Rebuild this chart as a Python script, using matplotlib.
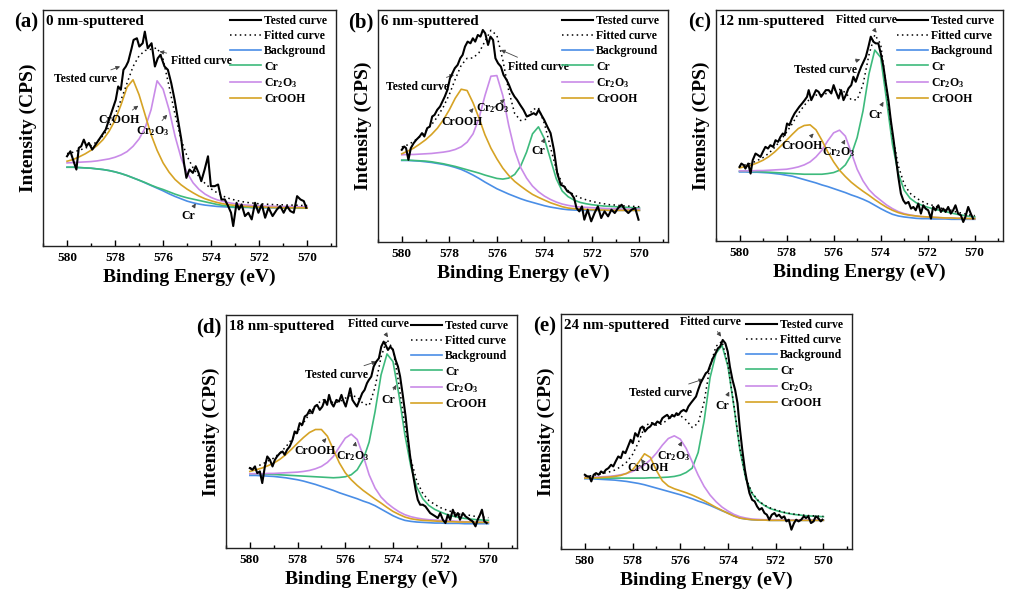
import matplotlib
matplotlib.use('Agg')
import matplotlib.pyplot as plt
from matplotlib.ticker import MultipleLocator

# Fonts: bold serif everywhere, subscripts through mathtext in the same font
plt.rcParams['font.family'] = 'Liberation Serif'
plt.rcParams['font.weight'] = 'bold'
plt.rcParams['axes.labelweight'] = 'bold'
plt.rcParams['mathtext.fontset'] = 'custom'
plt.rcParams['mathtext.rm'] = 'Liberation Serif:bold'
plt.rcParams['mathtext.bf'] = 'Liberation Serif:bold'
plt.rcParams['mathtext.default'] = 'bf'

# Common energy grid (eV) for the fitted components
energy = [580.0, 579.75, 579.5, 579.25, 579.0, 578.75, 578.5, 578.25, 578.0, 577.75,
          577.5, 577.25, 577.0, 576.75, 576.5, 576.25, 576.0, 575.75, 575.5, 575.25,
          575.0, 574.75, 574.5, 574.25, 574.0, 573.75, 573.5, 573.25, 573.0, 572.75,
          572.5, 572.25, 572.0, 571.75, 571.5, 571.25, 571.0, 570.75, 570.5, 570.25, 570.0]

# ---- (a) 0 nm-sputtered ----
a_E_test = [580.00, 579.86, 579.75, 579.61, 579.51, 579.41, 579.30, 579.19, 579.09, 578.95,
            578.81, 578.67, 578.53, 578.39, 578.25, 578.11, 577.97, 577.87, 577.76, 577.65,
            577.55, 577.45, 577.31, 577.23, 577.09, 576.99, 576.85, 576.76, 576.64, 576.48,
            576.34, 576.22, 576.11, 575.94, 575.80, 575.66, 575.52, 575.38, 575.24, 575.13,
            575.03, 574.90, 574.76, 574.64, 574.52, 574.41, 574.27, 574.13, 574.01, 573.85,
            573.71, 573.57, 573.43, 573.29, 573.17, 573.08, 572.94, 572.84, 572.73, 572.59,
            572.45, 572.31, 572.17, 572.03, 571.89, 571.75, 571.61, 571.44, 571.26, 571.12,
            570.98, 570.84, 570.70, 570.56, 570.42, 570.28, 570.14, 570.04]
a_I_test = [270, 285, 260, 230, 295, 300, 320, 300, 310, 290,
            305, 320, 335, 350, 380, 410, 440, 480, 470, 530,
            540, 555, 595, 620, 625, 600, 610, 645, 595, 610,
            540, 565, 575, 540, 530, 490, 440, 380, 320, 250,
            205, 230, 220, 240, 220, 195, 230, 270, 180, 180,
            185, 140, 140, 120, 100, 60, 130, 110, 125, 90,
            100, 80, 130, 100, 125, 85, 115, 90, 110, 120,
            100, 120, 105, 100, 150, 140, 135, 115]
a_fit = [278, 282, 288, 294, 302, 314, 332, 358, 395, 440, 490, 540, 572, 588, 592, 596, 562, 480, 395, 320,
         270, 235, 208, 188, 172, 160, 150, 143, 138, 134, 131, 129, 127, 126, 125, 124, 124, 123, 123, 122, 122]
a_bg = [237, 237, 236, 235, 234, 232, 230, 227, 223, 218, 212, 205, 198, 190, 182, 174, 166, 157, 149, 142,
        135, 130, 126, 123, 121, 119, 118, 117, 116, 116, 116, 115, 115, 115, 115, 115, 114, 114, 114, 114, 114]
a_cr = [237, 237, 236, 235, 234, 232, 230, 227, 223, 218, 212, 205, 198, 191, 183, 176, 170, 163, 156, 150,
        145, 141, 137, 133, 129, 125, 122, 119, 117, 117, 117, 116, 116, 116, 116, 116, 115, 115, 115, 115, 115]
a_cr2o3 = [250, 251, 252, 253, 254, 256, 259, 262, 267, 274, 284, 300, 322, 355, 410, 497, 472, 410, 330, 265,
           220, 190, 170, 156, 146, 139, 134, 130, 127, 125, 123, 122, 121, 120, 120, 119, 119, 119, 118, 118, 118]
a_crooh = [255, 260, 268, 277, 288, 302, 320, 345, 378, 425, 478, 500, 455, 395, 335, 288, 250, 222, 200, 184,
           171, 160, 150, 142, 136, 131, 127, 124, 122, 120, 119, 118, 117, 117, 116, 116, 115, 115, 115, 115, 114]

# ---- (b) 6 nm-sputtered ----
b_E_test = [580.00, 579.90, 579.82, 579.72, 579.62, 579.50, 579.39, 579.25, 579.15, 579.05,
            578.93, 578.82, 578.72, 578.62, 578.51, 578.39, 578.29, 578.19, 578.08, 577.97,
            577.87, 577.77, 577.65, 577.54, 577.44, 577.34, 577.23, 577.11, 577.01, 576.91,
            576.80, 576.69, 576.59, 576.49, 576.37, 576.27, 576.16, 576.06, 575.95, 575.83,
            575.72, 575.59, 575.49, 575.38, 575.26, 575.15, 575.02, 574.88, 574.74, 574.59,
            574.45, 574.35, 574.24, 574.13, 574.01, 573.88, 573.74, 573.60, 573.46, 573.31,
            573.17, 573.03, 572.89, 572.75, 572.65, 572.53, 572.42, 572.32, 572.18, 572.03,
            571.89, 571.75, 571.61, 571.47, 571.32, 571.18, 571.04, 570.90, 570.75, 570.61,
            570.47, 570.33, 570.18, 570.04]
b_I_test = [277, 287, 282, 247, 282, 297, 307, 317, 327, 317,
            342, 347, 377, 382, 397, 407, 422, 437, 457, 492,
            507, 522, 532, 552, 562, 587, 602, 597, 612, 602,
            622, 617, 637, 627, 592, 617, 607, 552, 537, 527,
            502, 487, 472, 452, 437, 427, 412, 397, 377, 382,
            387, 382, 397, 382, 367, 347, 327, 277, 207, 172,
            167, 152, 147, 132, 102, 92, 107, 67, 97, 62,
            87, 107, 72, 92, 77, 97, 87, 102, 112, 97,
            87, 97, 102, 67]
b_fit = [285, 292, 302, 316, 333, 352, 376, 406, 443, 489, 531, 552, 553, 569, 603, 636, 621, 547, 454, 386,
         365, 369, 398, 403, 356, 286, 218, 175, 154, 141, 133, 127, 122, 118, 115, 112, 111, 109, 108, 107, 106]
b_bg = [245, 245, 244, 243, 241, 239, 236, 233, 229, 224, 218, 210, 201, 191, 180, 170, 160, 152, 144, 137,
        130, 124, 119, 114, 109, 105, 102, 99, 97, 96, 95, 95, 95, 95, 95, 95, 95, 95, 95, 95, 95]
b_cr = [246, 246, 245, 244, 243, 241, 238, 235, 231, 227, 222, 217, 212, 207, 201, 196, 191, 189, 192, 203,
        228, 270, 325, 346, 310, 250, 190, 153, 136, 126, 119, 115, 112, 110, 108, 107, 106, 105, 104, 103, 102]
b_cr2o3 = [262, 263, 263, 264, 265, 266, 268, 270, 273, 278, 286, 300, 325, 372, 440, 498, 500, 440, 350, 275,
           224, 192, 168, 151, 138, 128, 120, 114, 110, 107, 105, 104, 103, 102, 101, 100, 100, 99, 99, 99, 99]
b_crooh = [265, 273, 282, 294, 307, 323, 342, 367, 397, 432, 459, 455, 418, 372, 322, 282, 250, 222, 200, 182,
           168, 155, 143, 134, 126, 118, 112, 106, 102, 100, 99, 98, 97, 96, 96, 95, 95, 95, 95, 95, 95]

# ---- (c) 12 nm-sputtered ----
c_E_test = [580.00, 579.92, 579.82, 579.75, 579.63, 579.53, 579.44, 579.32, 579.21, 579.11,
            579.01, 578.90, 578.79, 578.69, 578.57, 578.47, 578.36, 578.26, 578.16, 578.08,
            577.98, 577.88, 577.77, 577.66, 577.56, 577.46, 577.34, 577.23, 577.13, 577.06,
            576.95, 576.85, 576.75, 576.64, 576.53, 576.43, 576.33, 576.21, 576.10, 576.00,
            575.90, 575.79, 575.68, 575.58, 575.48, 575.37, 575.25, 575.16, 575.06, 574.94,
            574.83, 574.73, 574.63, 574.52, 574.42, 574.31, 574.21, 574.10, 573.98, 573.88,
            573.79, 573.67, 573.57, 573.45, 573.36, 573.25, 573.14, 573.04, 572.94, 572.82,
            572.71, 572.61, 572.51, 572.40, 572.29, 572.19, 572.09, 571.98, 571.86, 571.77,
            571.67, 571.55, 571.44, 571.34, 571.24, 571.13, 571.02, 570.92, 570.82, 570.71,
            570.59, 570.49, 570.40, 570.28, 570.17, 570.07]
c_I_test = [222, 232, 227, 217, 232, 202, 242, 262, 257, 252,
            267, 282, 277, 287, 282, 302, 297, 312, 322, 317,
            352, 347, 367, 382, 392, 402, 412, 422, 432, 452,
            422, 437, 452, 447, 432, 442, 452, 452, 442, 467,
            447, 427, 452, 422, 437, 457, 467, 492, 477, 502,
            522, 537, 552, 582, 612, 597, 592, 592, 557, 522,
            477, 422, 362, 302, 252, 192, 142, 122, 112, 117,
            97, 102, 92, 112, 82, 107, 97, 92, 67, 102,
            92, 107, 87, 97, 87, 102, 82, 92, 107, 82,
            77, 57, 72, 102, 82, 67]
c_fit = [224, 228, 233, 241, 250, 263, 281, 302, 326, 352, 382, 406, 427, 437, 438, 443, 452, 454, 445, 423,
         423, 469, 557, 618, 590, 455, 319, 225, 170, 143, 129, 119, 111, 106, 100, 94, 92, 86, 83, 78, 76]
c_bg = [207, 207, 206, 206, 205, 204, 202, 200, 197, 194, 189, 184, 179, 174, 168, 163, 157, 151, 145, 138,
        132, 125, 117, 107, 97, 88, 80, 75, 72, 70, 68, 67, 67, 66, 66, 66, 65, 65, 65, 65, 65]
c_cr = [209, 209, 208, 208, 207, 206, 205, 204, 203, 202, 201, 200, 200, 200, 200, 202, 205, 212, 228, 258,
        310, 390, 500, 572, 550, 422, 290, 202, 152, 128, 115, 107, 101, 96, 92, 88, 84, 80, 77, 74, 72]
c_cr2o3 = [210, 210, 210, 211, 211, 212, 213, 214, 215, 218, 222, 228, 237, 252, 272, 300, 324, 332, 314, 265,
           215, 180, 154, 136, 122, 108, 97, 88, 82, 78, 75, 73, 72, 71, 70, 69, 69, 68, 68, 67, 67]
c_crooh = [219, 223, 227, 234, 242, 253, 267, 284, 302, 320, 337, 346, 348, 333, 302, 267, 237, 212, 193, 176,
           162, 149, 137, 124, 112, 101, 92, 85, 80, 77, 75, 73, 72, 71, 70, 69, 69, 68, 68, 67, 67]

# ---- (d) 18 nm-sputtered ----
d_E_test = [580.00, 579.89, 579.79, 579.69, 579.58, 579.48, 579.37, 579.27, 579.16, 579.05,
            578.95, 578.86, 578.74, 578.63, 578.54, 578.44, 578.33, 578.21, 578.12, 578.02,
            577.91, 577.80, 577.70, 577.60, 577.49, 577.38, 577.28, 577.18, 577.07, 576.96,
            576.86, 576.76, 576.68, 576.58, 576.49, 576.37, 576.26, 576.16, 576.07, 575.98,
            575.89, 575.79, 575.70, 575.61, 575.51, 575.40, 575.29, 575.19, 575.09, 575.01,
            574.91, 574.81, 574.70, 574.59, 574.49, 574.39, 574.31, 574.21, 574.11, 574.00,
            573.89, 573.79, 573.70, 573.58, 573.47, 573.38, 573.28, 573.17, 573.05, 572.96,
            572.86, 572.75, 572.64, 572.54, 572.44, 572.33, 572.22, 572.12, 572.02, 571.91,
            571.80, 571.70, 571.60, 571.49, 571.38, 571.28, 571.19, 571.07, 570.96, 570.86,
            570.77, 570.66, 570.54, 570.45, 570.35, 570.27, 570.17, 570.07]
d_I_test = [240, 235, 245, 225, 230, 195, 245, 275, 265, 245,
            265, 275, 285, 290, 280, 295, 305, 325, 350, 345,
            375, 370, 395, 400, 415, 405, 425, 430, 415, 425,
            445, 430, 460, 435, 425, 445, 440, 460, 440, 425,
            450, 480, 445, 435, 425, 445, 465, 475, 495, 505,
            515, 545, 560, 570, 605, 620, 610, 595, 605, 595,
            565, 545, 515, 455, 395, 335, 275, 225, 175, 145,
            130, 130, 125, 115, 105, 100, 95, 90, 105, 85,
            75, 100, 85, 115, 95, 105, 85, 105, 95, 90,
            85, 80, 65, 85, 100, 115, 80, 75]
d_fit = [240, 245, 251, 261, 270, 285, 303, 326, 350, 376, 403, 426, 444, 447, 436, 439, 450, 459, 453, 434,
         428, 483, 574, 626, 597, 492, 367, 267, 201, 164, 143, 131, 121, 114, 108, 102, 100, 98, 94, 93, 91]
d_bg = [218, 218, 217, 216, 215, 213, 211, 208, 205, 201, 196, 191, 185, 179, 173, 166, 160, 154, 148, 141,
        135, 127, 117, 107, 97, 89, 83, 80, 78, 77, 76, 75, 75, 74, 74, 74, 73, 73, 73, 73, 73]
d_cr = [223, 223, 222, 222, 221, 220, 219, 218, 217, 216, 215, 214, 213, 212, 211, 212, 214, 220, 235, 265,
        318, 410, 520, 583, 560, 460, 340, 245, 182, 148, 128, 116, 108, 101, 96, 92, 89, 87, 85, 84, 83]
d_cr2o3 = [223, 223, 223, 224, 224, 225, 226, 227, 228, 230, 233, 238, 245, 257, 275, 303, 330, 342, 326, 278,
           220, 180, 153, 135, 121, 109, 100, 94, 90, 87, 85, 84, 83, 82, 81, 80, 79, 79, 78, 78, 77]
d_crooh = [230, 235, 240, 247, 255, 266, 280, 297, 315, 332, 347, 356, 356, 336, 296, 256, 226, 205, 188, 173,
           160, 147, 135, 122, 110, 101, 93, 88, 85, 83, 82, 81, 80, 79, 79, 78, 78, 78, 77, 77, 77]

# ---- (e) 24 nm-sputtered ----
e_E_test = [580.00, 579.90, 579.81, 579.73, 579.63, 579.53, 579.42, 579.32, 579.22, 579.12,
            579.01, 578.90, 578.81, 578.71, 578.60, 578.49, 578.40, 578.30, 578.19, 578.08,
            577.99, 577.89, 577.78, 577.67, 577.58, 577.48, 577.37, 577.26, 577.16, 577.07,
            576.96, 576.85, 576.75, 576.66, 576.55, 576.44, 576.34, 576.25, 576.16, 576.07,
            575.97, 575.86, 575.75, 575.66, 575.56, 575.45, 575.34, 575.25, 575.15, 575.04,
            574.93, 574.84, 574.74, 574.63, 574.52, 574.42, 574.33, 574.22, 574.11, 574.01,
            573.92, 573.81, 573.70, 573.60, 573.51, 573.40, 573.29, 573.19, 573.10, 572.99,
            572.88, 572.78, 572.68, 572.58, 572.47, 572.37, 572.27, 572.16, 572.05, 571.96,
            571.86, 571.75, 571.64, 571.55, 571.45, 571.34, 571.23, 571.14, 571.04, 570.93,
            570.82, 570.73, 570.63, 570.52, 570.41, 570.32, 570.22, 570.11, 570.04]
e_I_test = [223, 218, 218, 203, 223, 228, 223, 233, 228, 238,
            243, 253, 248, 263, 278, 273, 293, 288, 308, 328,
            318, 348, 338, 363, 368, 353, 363, 368, 378, 373,
            383, 378, 393, 398, 403, 393, 403, 398, 408, 403,
            413, 418, 413, 428, 438, 448, 458, 478, 498, 513,
            528, 533, 553, 573, 588, 603, 608, 628, 618, 593,
            548, 508, 478, 438, 368, 298, 238, 198, 168, 148,
            143, 128, 118, 123, 108, 103, 88, 103, 108, 98,
            103, 93, 98, 83, 88, 58, 78, 88, 83, 88,
            98, 93, 98, 78, 83, 98, 93, 83, 88]
e_fit = [219, 220, 223, 227, 231, 237, 247, 261, 284, 321, 366, 381, 372, 376, 391, 403, 401, 387, 365, 378,
         442, 550, 609, 624, 553, 431, 302, 213, 170, 147, 133, 124, 118, 112, 108, 105, 103, 101, 100, 99, 98]
e_bg = [211, 211, 210, 209, 208, 207, 205, 203, 200, 197, 193, 188, 183, 178, 173, 168, 163, 157, 151, 144,
        138, 131, 123, 115, 108, 100, 93, 90, 88, 87, 87, 86, 86, 86, 86, 86, 86, 86, 86, 86, 86]
e_cr = [213, 213, 213, 213, 213, 213, 213, 213, 213, 213, 213, 214, 214, 215, 216, 218, 222, 230, 243, 290,
        385, 515, 588, 612, 548, 428, 298, 210, 168, 145, 132, 122, 116, 111, 107, 104, 102, 100, 99, 98, 97]
e_cr2o3 = [215, 215, 216, 217, 218, 220, 223, 227, 233, 242, 253, 268, 288, 312, 332, 340, 330, 302, 262, 222,
           188, 162, 142, 126, 114, 104, 97, 93, 90, 89, 88, 88, 88, 87, 87, 87, 87, 87, 87, 87, 87]
e_crooh = [213, 214, 214, 215, 216, 218, 221, 227, 238, 260, 286, 275, 236, 205, 189, 181, 175, 169, 162, 154,
           145, 135, 125, 116, 107, 99, 93, 90, 88, 87, 87, 86, 86, 86, 86, 86, 86, 86, 86, 86, 86]

panel_tags = ['(a)', '(b)', '(c)', '(d)', '(e)']
depths = ['0 nm-sputtered', '6 nm-sputtered', '12 nm-sputtered', '18 nm-sputtered', '24 nm-sputtered']
x_ticks = [580, 578, 576, 574, 572, 570]

CR2O3 = r'Cr$_\mathbf{2}$O$_\mathbf{3}$'
colors = {'bg': '#4a8ee6', 'cr': '#3dba7c', 'cr2o3': '#c98be8', 'crooh': '#d6a325'}

panels = [
    dict(Et=a_E_test, It=a_I_test, fit=a_fit, bg=a_bg, cr=a_cr, cr2o3=a_cr2o3, crooh=a_crooh, top=710),
    dict(Et=b_E_test, It=b_I_test, fit=b_fit, bg=b_bg, cr=b_cr, cr2o3=b_cr2o3, crooh=b_crooh, top=697),
    dict(Et=c_E_test, It=c_I_test, fit=c_fit, bg=c_bg, cr=c_cr, cr2o3=c_cr2o3, crooh=c_crooh, top=692),
    dict(Et=d_E_test, It=d_I_test, fit=d_fit, bg=d_bg, cr=d_cr, cr2o3=d_cr2o3, crooh=d_crooh, top=700),
    dict(Et=e_E_test, It=e_I_test, fit=e_fit, bg=e_bg, cr=e_cr, cr2o3=e_cr2o3, crooh=e_crooh, top=706),
]

# axes boxes in pixels: left, top, right, bottom
boxes = [(43, 10, 336, 246), (378, 10, 668, 242), (716, 10, 1003, 241),
         (226, 315, 517, 548), (561, 314, 852, 549)]

# in-plot labels: text, arrow tip (E, I), text centre (E, I)
notes = [
    [('Tested curve', 577.79, 540, 579.23, 502), ('Fitted curve', 576.15, 585, 574.41, 558),
     ('CrOOH', 577.03, 422, 577.83, 380), (CR2O3, 575.83, 395, 576.43, 345),
     ('Cr', 574.64, 128, 574.97, 90)],
    [('Tested curve', 577.80, 502, 579.33, 467), ('Fitted curve', 575.83, 577, 574.24, 527),
     ('CrOOH', 576.98, 402, 577.47, 362), (CR2O3, 575.66, 429, 576.16, 402),
     ('Cr', 573.98, 312, 574.27, 272)],
    [('Fitted curve', 574.17, 624, 574.62, 662), ('Tested curve', 574.87, 544, 576.36, 512),
     ('Cr', 573.88, 417, 574.21, 377), ('CrOOH', 576.85, 322, 577.34, 285),
     (CR2O3, 575.51, 304, 575.79, 267)],
    [('Fitted curve', 574.21, 633, 574.59, 673), ('Tested curve', 574.70, 560, 576.37, 520),
     ('Cr', 573.86, 490, 574.21, 445), ('CrOOH', 576.79, 330, 577.28, 290),
     (CR2O3, 575.56, 320, 575.70, 275)],
    [('Fitted curve', 574.29, 638, 574.74, 683), ('Tested curve', 575.04, 510, 576.82, 468),
     ('Cr', 573.95, 473, 574.22, 430), ('CrOOH', 577.64, 270, 577.37, 243),
     (CR2O3, 575.93, 323, 576.27, 278)],
]

W, H = 1011, 594
fig = plt.figure(figsize=(W / 100, H / 100), dpi=100)

for k, p in enumerate(panels):
    l, t, r, b = boxes[k]
    ax = fig.add_axes([l / W, 1 - b / H, (r - l) / W, (b - t) / H])

    ax.plot(energy, p['bg'], color=colors['bg'], lw=1.2, label='Background', zorder=2)
    ax.plot(energy, p['cr'], color=colors['cr'], lw=1.2, label='Cr', zorder=2)
    ax.plot(energy, p['cr2o3'], color=colors['cr2o3'], lw=1.2, label=CR2O3, zorder=2)
    ax.plot(energy, p['crooh'], color=colors['crooh'], lw=1.2, label='CrOOH', zorder=2)
    ax.plot(energy, p['fit'], color='black', ls=(0, (1, 2.2)), lw=1.1, label='Fitted curve', zorder=3)
    ax.plot(p['Et'], p['It'], color='black', lw=1.5, label='Tested curve', zorder=4)

    ax.set_xlim(581, 568.8)
    ax.set_ylim(0, p['top'])
    ax.set_xticks(x_ticks)
    ax.xaxis.set_minor_locator(MultipleLocator(1))
    ax.set_yticks([])
    ax.tick_params(axis='x', which='major', direction='in', length=4, width=1, pad=4, labelsize=9.5)
    ax.tick_params(axis='x', which='minor', direction='in', length=2, width=1)
    for s in ax.spines.values():
        s.set_linewidth(1.0)
        s.set_color('#222222')

    ax.set_xlabel('Binding Energy (eV)', fontsize=14, labelpad=4)
    ax.set_ylabel('Intensity (CPS)', fontsize=14, labelpad=4)

    # legend in the reference order, tucked into the top right corner
    h, lab = ax.get_legend_handles_labels()
    order = [5, 4, 0, 1, 2, 3]
    ax.legend([h[i] for i in order], [lab[i] for i in order], loc='upper right', frameon=False,
              bbox_to_anchor=(1 - 9 / (r - l), 1 - 5 / (b - t)),
              fontsize=8.5, handlelength=2.6, handletextpad=0.25, labelspacing=0.27,
              borderaxespad=0, borderpad=0)

    ax.annotate(panel_tags[k], xy=(0, 1), xycoords='axes fraction', xytext=(-3.5, -9),
                textcoords='offset points', ha='right', va='center', fontsize=15)
    ax.annotate(depths[k], xy=(0, 1), xycoords='axes fraction', xytext=(2.5, -8.3),
                textcoords='offset points', ha='left', va='center', fontsize=10.8)

    for txt, xe, yi, tx, ty in notes[k]:
        ax.annotate(txt, xy=(xe, yi), xytext=(tx, ty), ha='center', va='center', fontsize=8.5,
                    arrowprops=dict(arrowstyle='-|>', color='#444444', lw=0.6,
                                    mutation_scale=6, shrinkA=1, shrinkB=0))

plt.savefig('out.png', dpi=100)
